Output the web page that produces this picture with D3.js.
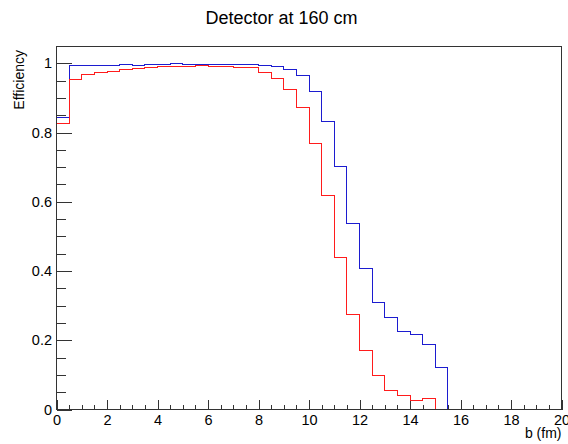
<!DOCTYPE html>
<html>
<head>
<meta charset="utf-8">
<script src="https://cdn.jsdelivr.net/npm/d3@7"></script>
<style>
body { margin: 0; background: #fff; }
text { font-family: "Liberation Sans", Arial, Helvetica, sans-serif; fill: #000; }
</style>
</head>
<body>
<svg id="chart" width="568" height="444"></svg>
<script>
const title = 'Detector at 160 cm'
const xAxisLabel = 'b (fm)'
const yAxisLabel = 'Efficiency'

// 40 bins of 0.5 fm from 0 to 20
const binEdges = [0, 0.5, 1, 1.5, 2, 2.5, 3, 3.5, 4, 4.5, 5, 5.5, 6, 6.5, 7, 7.5, 8, 8.5, 9, 9.5,
	10, 10.5, 11, 11.5, 12, 12.5, 13, 13.5, 14, 14.5, 15, 15.5, 16, 16.5, 17, 17.5, 18, 18.5, 19, 19.5, 20]

const blueEff = [0.843, 0.993, 0.993, 0.994, 0.995, 0.997, 0.995, 0.997, 0.997, 1.0,
	0.997, 0.997, 0.997, 0.997, 0.997, 0.997, 0.994, 0.990, 0.982, 0.966,
	0.920, 0.831, 0.702, 0.538, 0.408, 0.310, 0.267, 0.225, 0.218, 0.189,
	0.122, 0, 0, 0, 0, 0, 0, 0, 0, 0]

const redEff = [0.826, 0.952, 0.967, 0.973, 0.975, 0.981, 0.985, 0.988, 0.990, 0.992,
	0.992, 0.995, 0.992, 0.990, 0.988, 0.988, 0.974, 0.955, 0.925, 0.872,
	0.768, 0.617, 0.440, 0.273, 0.169, 0.098, 0.056, 0.039, 0.026, 0.031,
	0, 0, 0, 0, 0, 0, 0, 0, 0, 0]

const xTicks = [0, 2, 4, 6, 8, 10, 12, 14, 16, 18, 20]
const yTicks = [0, 0.2, 0.4, 0.6, 0.8, 1]

const frame = { left: 56.5, right: 561.5, top: 46, bottom: 409.5 }
const svg = d3.select('#chart')

const x = d3.scaleLinear().domain([0, 20]).range([frame.left, frame.right])
const y = d3.scaleLinear().domain([0, 1.05]).range([frame.bottom, frame.top])

const xMinor = d3.range(0, 20.01, 0.5).filter(v => !xTicks.includes(v))
const yMinor = d3.range(0, 1.001, 0.05).map(v => +v.toFixed(2)).filter(v => !yTicks.some(t => Math.abs(t - v) < 1e-6))

function styleAxis(g) {
	g.select('.domain').remove()
	g.selectAll('line').attr('stroke', '#333').attr('shape-rendering', 'crispEdges')
	g.selectAll('text').style('font-size', '14.5px').attr('fill', '#000')
}

// x axis
svg.append('g').attr('transform', `translate(0,${frame.bottom})`)
	.call(d3.axisBottom(x).tickValues(xTicks).tickSize(-10).tickPadding(5).tickFormat(d3.format('d')))
	.call(styleAxis)
svg.append('g').attr('transform', `translate(0,${frame.bottom})`)
	.call(d3.axisBottom(x).tickValues(xMinor).tickSize(-5).tickFormat(''))
	.call(styleAxis)

// y axis
const yFmt = d => (d === 0 || d === 1) ? String(d) : d.toFixed(1)
svg.append('g').attr('transform', `translate(${frame.left},0)`)
	.call(d3.axisLeft(y).tickValues(yTicks).tickSize(-15).tickPadding(4.5).tickFormat(yFmt))
	.call(styleAxis)
svg.append('g').attr('transform', `translate(${frame.left},0)`)
	.call(d3.axisLeft(y).tickValues(yMinor).tickSize(-9).tickFormat(''))
	.call(styleAxis)

// histograms as step outlines
function stepPoints(vals) {
	const pts = [[binEdges[0], 0]]
	vals.forEach((v, i) => pts.push([binEdges[i], v]))
	pts.push([binEdges[binEdges.length - 1], vals[vals.length - 1]])
	pts.push([binEdges[binEdges.length - 1], 0])
	return pts
}
const line = d3.line().x(d => x(d[0])).y(d => y(d[1])).curve(d3.curveStepAfter)

const series = [
	{ vals: blueEff, color: '#1c1cd0' },
	{ vals: redEff, color: '#ff1c1c' }
]
series.forEach(s => {
	svg.append('path').datum(stepPoints(s.vals))
		.attr('d', line).attr('fill', 'none')
		.attr('stroke', s.color).attr('stroke-width', 1)
		.attr('shape-rendering', 'crispEdges')
})

// frame
svg.append('rect')
	.attr('x', frame.left).attr('y', frame.top)
	.attr('width', frame.right - frame.left).attr('height', frame.bottom - frame.top)
	.attr('fill', 'none').attr('stroke', '#333').attr('shape-rendering', 'crispEdges')

// titles
svg.append('text').attr('x', 281.5).attr('y', 24)
	.attr('text-anchor', 'middle').style('font-size', '18px').text(title)

svg.append('text').attr('x', frame.right).attr('y', 438)
	.attr('text-anchor', 'end').style('font-size', '14px').text(xAxisLabel)

svg.append('text').attr('transform', 'translate(24,50) rotate(-90)')
	.attr('text-anchor', 'end').style('font-size', '14px').text(yAxisLabel)
</script>
</body>
</html>
